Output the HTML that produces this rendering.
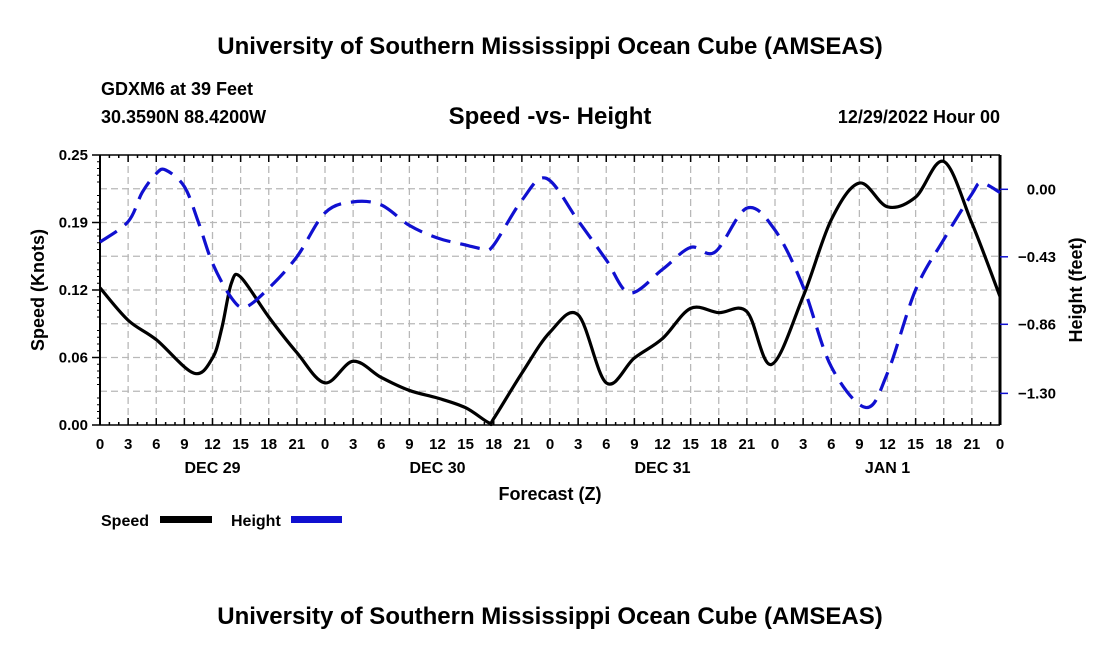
<!DOCTYPE html>
<html><head><meta charset="utf-8"><style>
html,body{margin:0;padding:0;background:#fff;}
svg{display:block;font-family:"Liberation Sans",sans-serif;font-weight:bold;}
</style></head><body>
<svg id="chart" width="1100" height="650" viewBox="0 0 1100 650">
<text x="550" y="54" text-anchor="middle" font-size="24">University of Southern Mississippi Ocean Cube (AMSEAS)</text>
<text x="101" y="95" font-size="18">GDXM6 at 39 Feet</text>
<text x="101" y="123" font-size="18">30.3590N  88.4200W</text>
<text x="550" y="124" text-anchor="middle" font-size="24">Speed -vs- Height</text>
<text x="1000" y="123" text-anchor="end" font-size="18">12/29/2022 Hour 00</text>
<g id="grid"></g>
<g id="axes"></g>
<g id="series"></g>
<text transform="translate(44,290) rotate(-90)" text-anchor="middle" font-size="18">Speed (Knots)</text>
<text transform="translate(1082,290) rotate(-90)" text-anchor="middle" font-size="18">Height (feet)</text>
<text x="550" y="500" text-anchor="middle" font-size="18">Forecast (Z)</text>
<g>
<text x="101" y="526" font-size="16">Speed</text>
<rect x="160" y="516" width="52" height="7" fill="#000"/>
<text x="231" y="526" font-size="16">Height</text>
<rect x="291" y="516" width="51" height="7" fill="#1010d0"/>
</g>
<text x="550" y="624" text-anchor="middle" font-size="24">University of Southern Mississippi Ocean Cube (AMSEAS)</text>
</svg>
<script>
const speedHours=[0,3,6,10,12,13,14,15,18,21,24,27,30,33,36,39,41.5,42,45,48,51,54,57,60,63,66,69,71.6,75,78,81,84,87,90,93,96];
const speedValues=[0.127,0.097,0.079,0.048,0.062,0.090,0.131,0.137,0.100,0.067,0.039,0.059,0.044,0.032,0.025,0.016,0.002,0.006,0.048,0.086,0.102,0.039,0.062,0.080,0.108,0.104,0.105,0.056,0.119,0.190,0.224,0.202,0.211,0.244,0.187,0.119];
const heightHours=[0,3,4.5,6,7,9,10.5,12,14,15.5,18,21,24,27,30,33,36,39,41,42,45,47.6,51,54,56.5,60,63,65.6,69,72,75,78,81.7,84,87,90,93,94,96];
const heightValues=[-0.336,-0.206,-0.02,0.10,0.123,0.017,-0.21,-0.47,-0.69,-0.75,-0.63,-0.43,-0.15,-0.08,-0.10,-0.23,-0.31,-0.355,-0.38,-0.355,-0.07,0.07,-0.20,-0.45,-0.66,-0.51,-0.37,-0.40,-0.12,-0.26,-0.62,-1.13,-1.39,-1.17,-0.64,-0.32,-0.03,0.04,-0.02];
const xTickLabels=["0","3","6","9","12","15","18","21","0","3","6","9","12","15","18","21","0","3","6","9","12","15","18","21","0","3","6","9","12","15","18","21","0"];
const dayLabels=["DEC 29","DEC 30","DEC 31","JAN 1"];
const speedTicks=[0,0.0625,0.125,0.1875,0.25];
const speedTickLabels=["0.00","0.06","0.12","0.19","0.25"];
const heightTicks=[0,-0.43,-0.86,-1.30];
const heightTickLabels=["0.00","\u22120.43","\u22120.86","\u22121.30"];

const NS="http://www.w3.org/2000/svg";
const L=100,R=1000,T=155,B=425;
const x=h=>L+(R-L)*h/96;
const yS=v=>B-(B-T)*v/0.25;
const yH=v=>189.3-v*67.5/0.43;
function mk(tag,attrs,parent){const e=document.createElementNS(NS,tag);for(const k in attrs)e.setAttribute(k,attrs[k]);parent.appendChild(e);return e;}
const grid=document.getElementById('grid'),axes=document.getElementById('axes'),series=document.getElementById('series');
for(let i=1;i<32;i++){const l=mk('line',{x1:x(i*3),x2:x(i*3),y1:T,y2:B,stroke:'#b8b8b8','stroke-width':1.3,'stroke-dasharray':'7,4'},grid);
}
for(let i=1;i<8;i++){const yy=T+i*(B-T)/8;const l=mk('line',{x1:L,x2:R,y1:yy,y2:yy,stroke:'#b8b8b8','stroke-width':1.3,'stroke-dasharray':'7,4'},grid);
}
mk('line',{x1:L,x2:R,y1:T,y2:T,stroke:'#000','stroke-width':1.5},axes);
mk('line',{x1:L,x2:R,y1:B,y2:B,stroke:'#000','stroke-width':1.5},axes);
mk('line',{x1:L,x2:L,y1:T,y2:B,stroke:'#000','stroke-width':2},axes);
mk('line',{x1:R,x2:R,y1:T,y2:B,stroke:'#000','stroke-width':3},axes);
for(let h=0;h<=96;h++){const major=h%3===0;const len=major?7:3;
mk('line',{x1:x(h),x2:x(h),y1:B,y2:B-len,stroke:'#000','stroke-width':1.5},axes);
mk('line',{x1:x(h),x2:x(h),y1:T,y2:T+len,stroke:'#000','stroke-width':1.5},axes);}
for(let i=0;i<=40;i++){const yy=T+i*(B-T)/40;mk('line',{x1:L-(i%5===0?0:3),x2:L,y1:yy,y2:yy,stroke:'#000','stroke-width':1},axes);}
xTickLabels.forEach((t,i)=>{const e=mk('text',{x:x(i*3),y:449,'text-anchor':'middle','font-size':15},axes);e.textContent=t;
});
dayLabels.forEach((t,i)=>{const e=mk('text',{x:x(12+24*i),y:473,'text-anchor':'middle','font-size':16},axes);e.textContent=t;
});
speedTicks.forEach((v,i)=>{mk('line',{x1:L-8,x2:L,y1:yS(v),y2:yS(v),stroke:'#000','stroke-width':1.5},axes);
const e=mk('text',{x:88,y:yS(v)+5,'text-anchor':'end','font-size':15},axes);e.textContent=speedTickLabels[i];
});
heightTicks.forEach((v,i)=>{mk('line',{x1:R,x2:R+8,y1:yH(v),y2:yH(v),stroke:'#1010d0','stroke-width':1.5},axes);
const e=mk('text',{x:1056,y:yH(v)+5,'text-anchor':'end','font-size':15},axes);e.textContent=heightTickLabels[i];
});
function smooth(pts){let d=`M${pts[0][0]},${pts[0][1]}`;for(let i=0;i<pts.length-1;i++){const p0=pts[i-1]||pts[i],p1=pts[i],p2=pts[i+1],p3=pts[i+2]||p2;
const c1=[p1[0]+(p2[0]-p0[0])/6,p1[1]+(p2[1]-p0[1])/6],c2=[p2[0]-(p3[0]-p1[0])/6,p2[1]-(p3[1]-p1[1])/6];
d+=`C${c1[0]},${c1[1]} ${c2[0]},${c2[1]} ${p2[0]},${p2[1]}`;}return d;}
const sp=mk('path',{d:smooth(speedHours.map((h,i)=>[x(h),yS(speedValues[i])])),fill:'none',stroke:'#000','stroke-width':3.2,'stroke-linejoin':'round'},series);

const hp=mk('path',{d:smooth(heightHours.map((h,i)=>[x(h),yH(heightValues[i])])),fill:'none',stroke:'#1010d0','stroke-width':3.2,'stroke-dasharray':'20,10'},series);

</script>
</body></html>
